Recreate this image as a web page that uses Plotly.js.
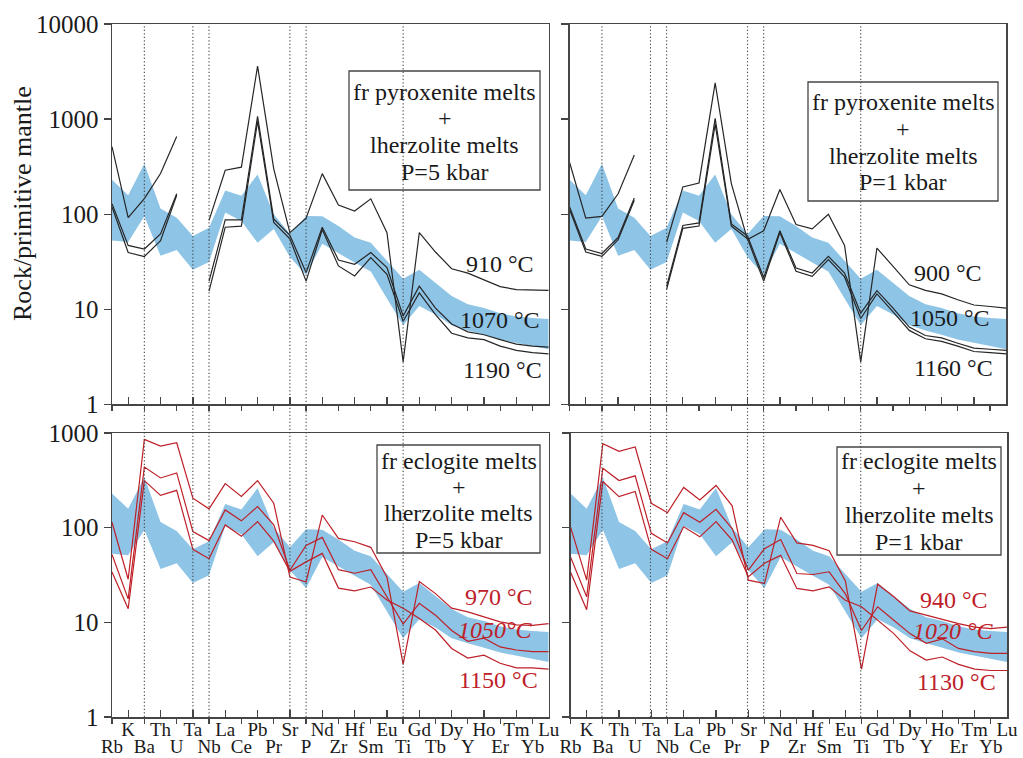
<!DOCTYPE html>
<html>
<head>
<meta charset="utf-8">
<script src="https://cdn.plot.ly/plotly-3.0.1.min.js"></script>
<style>
  html, body { margin: 0; padding: 0; background: #fff; }
  #chart { width: 1023px; height: 758px; }
</style>
</head>
<body>
<div id="chart"></div>
<script>
// Primitive-mantle normalised spider diagrams: modelled mixed melts vs. observed range
const elements = ['Rb','K','Ba','Th','U','Ta','Nb','La','Ce','Pb','Pr','Sr','P','Nd','Zr','Hf',
                  'Sm','Eu','Ti','Gd','Tb','Dy','Y','Ho','Er','Tm','Yb','Lu'];

// observed compositional field (shaded band)
const bandTop    = [230,158,340,115,92,59,72,178,156,262,100,62,96,95,75,57,50,32,21,26,19,13.8,11.3,10.3,9.1,8.4,8.1,7.9];
const bandBottom = [53,51,95,36.5,42,26,31.5,104,85,50,70,35.5,23,49,39,31,25,13,6.8,10.8,8.8,6.8,6.0,5.4,4.8,4.5,4.1,3.8];

// fr pyroxenite melts + lherzolite melts, P = 5 kbar
const px5_910  = [513,92,146,268,655,null,86,290,312,3600,300,64,91,267,125,108,145,64,2.8,64,40,26.7,24,20.4,17.3,16.1,15.9,15.8];
const px5_1070 = [129,47,43,62,164,null,19.8,87,87,1067,89,60,24.3,73,33,29.7,39.5,27.4,8.5,17.5,10.3,7.0,5.8,5.4,4.8,4.3,4.1,4.0];
const px5_1190 = [119,39.5,35.9,52.6,158,null,15.5,73,75,944,82,55,19.8,69,28.6,22.4,35,23.3,7.5,14.9,8.8,5.6,5.0,4.8,4.1,3.7,3.5,3.4];

// fr pyroxenite melts + lherzolite melts, P = 1 kbar
const px1_900  = [350,91,95,164,419,null,51,193,213,2409,210,54,67,182,78,70,100,47,2.8,44,28.3,18.1,15.8,14.5,12.6,11.1,10.7,10.3];
const px1_1050 = [119,43,38.6,57,148,null,17.5,76,81,1016,79,59,21.5,67,27.2,24.1,36.1,24.1,9.1,15.7,10.3,6.5,5.3,5.0,4.4,3.9,3.8,3.7];
const px1_1160 = [112,40,36,54,140,null,16.2,71,75,885,75,55,19.8,64,25.1,22.2,33.3,21.9,8.0,14.5,9.4,6.0,4.9,4.6,4.1,3.6,3.5,3.4];

// fr eclogite melts + lherzolite melts, P = 5 kbar
const ec5_970  = [114,28.5,857,728,789,205,158,292,214,314,181,30.1,26.7,136,77,71,62,30,3.6,27,20.1,14.1,12.9,11.4,10.1,9.4,9.3,9.7];
const ec5_1050 = [52,17.7,438,335,379,91,73,154,118,167,107,35.5,65,79,36,33,36,18.7,9.6,15.9,11.9,8.2,6.3,6.8,5.5,5.1,4.9,4.9];
const ec5_1150 = [34,13.9,314,219,248,59,47,107,81,116,72,34.6,43.5,53.5,23,21.5,23.6,17.2,14.1,11,8.3,5.3,4.2,4.5,3.7,3.3,3.3,3.2];

// fr eclogite melts + lherzolite melts, P = 1 kbar
const ec1_940  = [102,27.9,771,640,711,181,144,266,196,279,170,27.9,25.7,129,69,65,57,27.4,3.2,25.3,18.6,13.2,11.9,10.7,9.7,8.9,8.6,8.9];
const ec1_1020 = [49,18.6,425,315,353,87,69,144,114,156,98,35.6,60,75,32.8,32,34.2,20,8.2,14.6,10.5,7.6,6.0,6.7,5.3,4.9,4.7,4.7];
const ec1_1130 = [34,13.6,307,213,241,59,47,102,80,116,74,30.3,42,51,22.8,21.5,23.7,17.1,14.6,10.5,7.6,5.0,4.0,4.3,3.6,3.2,3.1,3.1];

// elements marked by vertical dotted guides
const guideElements = ['Ba','Ta','Nb','Sr','P','Ti'];

const yTickVals = [1, 10, 100, 1000, 10000];
const yTickText = ['1', '10', '100', '1000', '10000'];

// ---------------------------------------------------------------------------
const W = 1023, H = 758;
const fx = p => p / W;          // pixel -> paper x
const fy = p => 1 - p / H;      // pixel -> paper y

const FONT = 'Liberation Serif, Times New Roman, serif';
const INK = '#1a1a1a';
const AXIS = '#454545';
const BLUE = 'rgb(142,196,230)';
const RED = 'rgb(190,32,40)';
const BLACK = '#262626';

const idx = elements.map((_, i) => i);
const oddIdx = idx.filter(i => i % 2 === 1);
const evenIdx = idx.filter(i => i % 2 === 0);

const panels = [
  { k: 1, ov: 5, xd: [112, 548.7], yd: [24, 404.4], yr: [0, 4], xlab: false, ylab: true,
    series: [px5_910, px5_1070, px5_1190], color: BLACK,
    box: { lines: ['fr pyroxenite melts', '+', 'lherzolite melts', 'P=5 kbar'],
           x0: 349, x1: 540, y0: 71, y1: 190, ty: [92, 118.5, 145, 172] },
    temps: [ { t: '910 °C', x: 500, y: 264 }, { t: '1070 °C', x: 500, y: 320 }, { t: '1190 °C', x: 502, y: 370 } ] },
  { k: 2, ov: 6, xd: [569.6, 1006.3], yd: [24, 404.4], yr: [0, 4], xlab: false, ylab: false,
    series: [px1_900, px1_1050, px1_1160], color: BLACK,
    box: { lines: ['fr pyroxenite melts', '+', 'lherzolite melts', 'P=1 kbar'],
           x0: 808, x1: 998, y0: 82, y1: 201, ty: [102, 128.5, 155.5, 182] },
    temps: [ { t: '900 °C', x: 948, y: 273 }, { t: '1050 °C', x: 950, y: 318 }, { t: '1160 °C', x: 953, y: 368 } ] },
  { k: 3, ov: 7, xd: [112, 548.7], yd: [433, 717], yr: [0, 3], xlab: true, ylab: true,
    series: [ec5_970, ec5_1050, ec5_1150], color: RED,
    box: { lines: ['fr eclogite melts', '+', 'lherzolite melts', 'P=5 kbar'],
           x0: 377, x1: 540, y0: 445, y1: 553, ty: [461, 486.5, 513, 540] },
    temps: [ { t: '970 °C', x: 499, y: 597, c: RED }, { t: '<i>1050°C</i>', x: 495, y: 630, c: RED },
             { t: '1150 °C', x: 498, y: 680, c: RED } ] },
  { k: 4, ov: 8, xd: [570.5, 1007], yd: [433, 717], yr: [0, 3], xlab: true, ylab: false,
    series: [ec1_940, ec1_1020, ec1_1130], color: RED,
    box: { lines: ['fr eclogite melts', '+', 'lherzolite melts', 'P=1 kbar'],
           x0: 837, x1: 1001, y0: 447, y1: 555, ty: [461, 487.5, 515, 541.5] },
    temps: [ { t: '940 °C', x: 954, y: 600, c: RED }, { t: '<i>1020 °C</i>', x: 953, y: 631, c: RED },
             { t: '1130 °C', x: 956, y: 682, c: RED } ] }
];

const axName = (a, k) => a + (k === 1 ? '' : k);        // 'x', 'x2', ...
const layoutKey = (a, k) => a + 'axis' + (k === 1 ? '' : k);

const data = [];
const layout = {
  width: W, height: H,
  margin: { l: 0, r: 0, t: 0, b: 0 },
  paper_bgcolor: '#fff', plot_bgcolor: 'rgba(0,0,0,0)',
  showlegend: false,
  font: { family: FONT, color: INK },
  shapes: [], annotations: []
};

panels.forEach(p => {
  const xa = axName('x', p.k), ya = axName('y', p.k), xo = axName('x', p.ov);

  // shaded field
  data.push({
    type: 'scatter', mode: 'lines', xaxis: xa, yaxis: ya,
    x: idx.concat(idx.slice().reverse()),
    y: bandTop.concat(bandBottom.slice().reverse()),
    fill: 'toself', fillcolor: BLUE, line: { width: 0 }, hoverinfo: 'skip'
  });
  // model melt curves
  p.series.forEach(s => {
    data.push({
      type: 'scatter', mode: 'lines', xaxis: xa, yaxis: ya,
      x: idx, y: s, connectgaps: false,
      line: { color: p.color, width: 1.2 }
    });
  });
  // binds the companion x axis to this panel so that it gets drawn (draws nothing itself)
  data.push({
    type: 'scatter', mode: 'none', xaxis: xo, yaxis: ya,
    x: idx, y: bandTop, hoverinfo: 'skip'
  });

  // main x axis: odd elements, ticks pointing inward
  layout[layoutKey('x', p.k)] = {
    domain: [fx(p.xd[0]), fx(p.xd[1])], anchor: ya, range: [0, elements.length - 1],
    tickmode: 'array', tickvals: oddIdx, ticktext: oddIdx.map(i => elements[i]),
    ticks: 'inside', ticklen: 7, tickwidth: 1.3, tickcolor: AXIS,
    showline: true, linecolor: AXIS, linewidth: 1.5, mirror: true,
    showgrid: false, zeroline: false, showticklabels: p.xlab,
    tickfont: { family: FONT, size: 19, color: INK }, ticklabelstandoff: -5
  };
  // companion x axis: even elements, ticks pointing outward, labels on a lower row
  layout[layoutKey('x', p.ov)] = {
    domain: [fx(p.xd[0]), fx(p.xd[1])],
    overlaying: xa, anchor: ya, side: 'bottom', range: [0, elements.length - 1],
    tickmode: 'array', tickvals: evenIdx, ticktext: evenIdx.map(i => elements[i]),
    ticks: 'outside', ticklen: 6, tickwidth: 1.3, tickcolor: AXIS,
    showline: false, showgrid: false, zeroline: false, showticklabels: p.xlab,
    tickfont: { family: FONT, size: 19, color: INK }, ticklabelstandoff: 6
  };
  layout[layoutKey('y', p.k)] = {
    domain: [fy(p.yd[1]), fy(p.yd[0])], anchor: xa, type: 'log', range: p.yr,
    tickmode: 'array', tickvals: yTickVals, ticktext: yTickText,
    ticks: 'outside', ticklen: 7, tickwidth: 1.3, tickcolor: AXIS,
    showline: true, linecolor: AXIS, linewidth: 1.5, mirror: true,
    showgrid: false, zeroline: false, showticklabels: p.ylab,
    tickfont: { family: FONT, size: 25, color: INK }
  };

  // legend-style text box
  layout.shapes.push({
    type: 'rect', xref: 'paper', yref: 'paper', layer: 'above',
    x0: fx(p.box.x0), x1: fx(p.box.x1), y0: fy(p.box.y1), y1: fy(p.box.y0),
    line: { color: AXIS, width: 1.3 }, fillcolor: 'rgba(0,0,0,0)'
  });
  const cx = (p.box.x0 + p.box.x1) / 2;
  p.box.lines.forEach((t, j) => {
    layout.annotations.push({
      xref: 'paper', yref: 'paper', x: fx(cx), y: fy(p.box.ty[j]),
      xanchor: 'center', yanchor: 'middle', showarrow: false, text: t,
      font: { family: FONT, size: 24, color: INK }
    });
  });
  // temperature labels
  p.temps.forEach(t => {
    layout.annotations.push({
      xref: 'paper', yref: 'paper', x: fx(t.x), y: fy(t.y),
      xanchor: 'center', yanchor: 'middle', showarrow: false, text: t.t,
      font: { family: FONT, size: 24, color: t.c || INK }
    });
  });
});

// vertical dotted guides, running through both rows of panels
['x', 'x2'].forEach(xr => {
  guideElements.forEach(e => {
    const i = elements.indexOf(e);
    layout.shapes.push({
      type: 'line', xref: xr, yref: 'paper', layer: 'above',
      x0: i, x1: i, y0: fy(717), y1: fy(24),
      line: { color: '#444', width: 1.1, dash: '1.2px,2.3px' }
    });
  });
});

// shared y-axis title
layout.annotations.push({
  xref: 'paper', yref: 'paper', x: fx(22), y: fy(204),
  xanchor: 'center', yanchor: 'middle', textangle: -90, showarrow: false,
  text: 'Rock/primitive mantle', font: { family: FONT, size: 26, color: INK }
});

Plotly.newPlot('chart', data, layout, { staticPlot: true, displayModeBar: false });
</script>
</body>
</html>
